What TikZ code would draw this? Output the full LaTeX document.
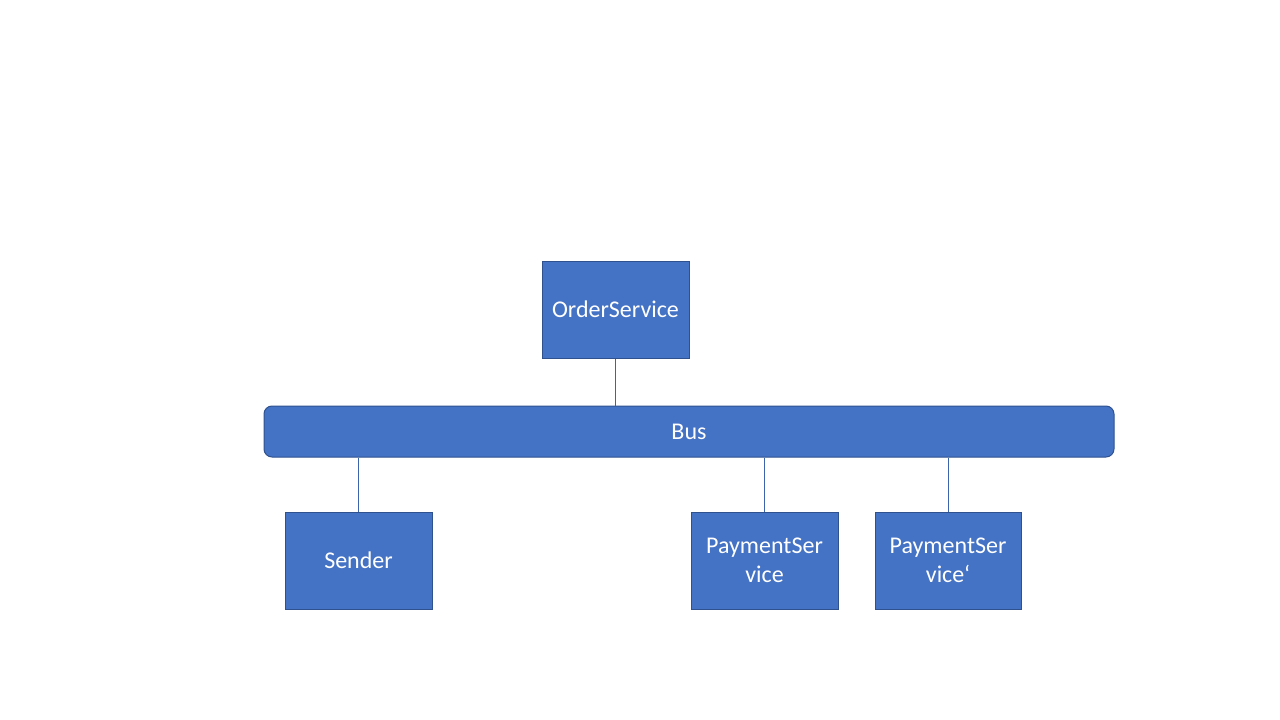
\documentclass[tikz,border=0pt]{standalone}
\usepackage{fontspec}
\setmainfont{Carlito}
\begin{document}
\begin{tikzpicture}[x=1pt,y=-1pt,
  box/.style={draw=boxborder,fill=boxfill,line width=1pt,text=white,inner sep=0pt,align=center,font=\fontsize{24}{29}\selectfont},
  conn/.style={draw=linecol,line width=1pt}]
\definecolor{boxfill}{HTML}{4472C4}
\definecolor{boxborder}{HTML}{2F528F}
\definecolor{linecol}{HTML}{3C64AC}
\useasboundingbox (0,0) rectangle (1280,720);
\node[box,minimum width=147pt,minimum height=97pt] (order) at (615.5,309.5) {OrderService};
\node[box,minimum width=850pt,minimum height=51pt,rounded corners=8pt] (bus) at (689,431.5) {Bus};
\node[box,minimum width=147pt,minimum height=97pt] (sender) at (358.5,560.5) {Sender};
\node[box,minimum width=147pt,minimum height=97pt] (pay) at (764.5,560.5) {PaymentSer\\vice};
\node[box,minimum width=146pt,minimum height=97pt] (pay2) at (948,560.5) {PaymentSer\\vice‘};
\draw[conn] (order.south) -- (order.south |- bus.north);
\draw[conn] (bus.south -| sender.north) -- (sender.north);
\draw[conn] (bus.south -| pay.north) -- (pay.north);
\draw[conn] (bus.south -| pay2.north) -- (pay2.north);
\end{tikzpicture}
\end{document}
